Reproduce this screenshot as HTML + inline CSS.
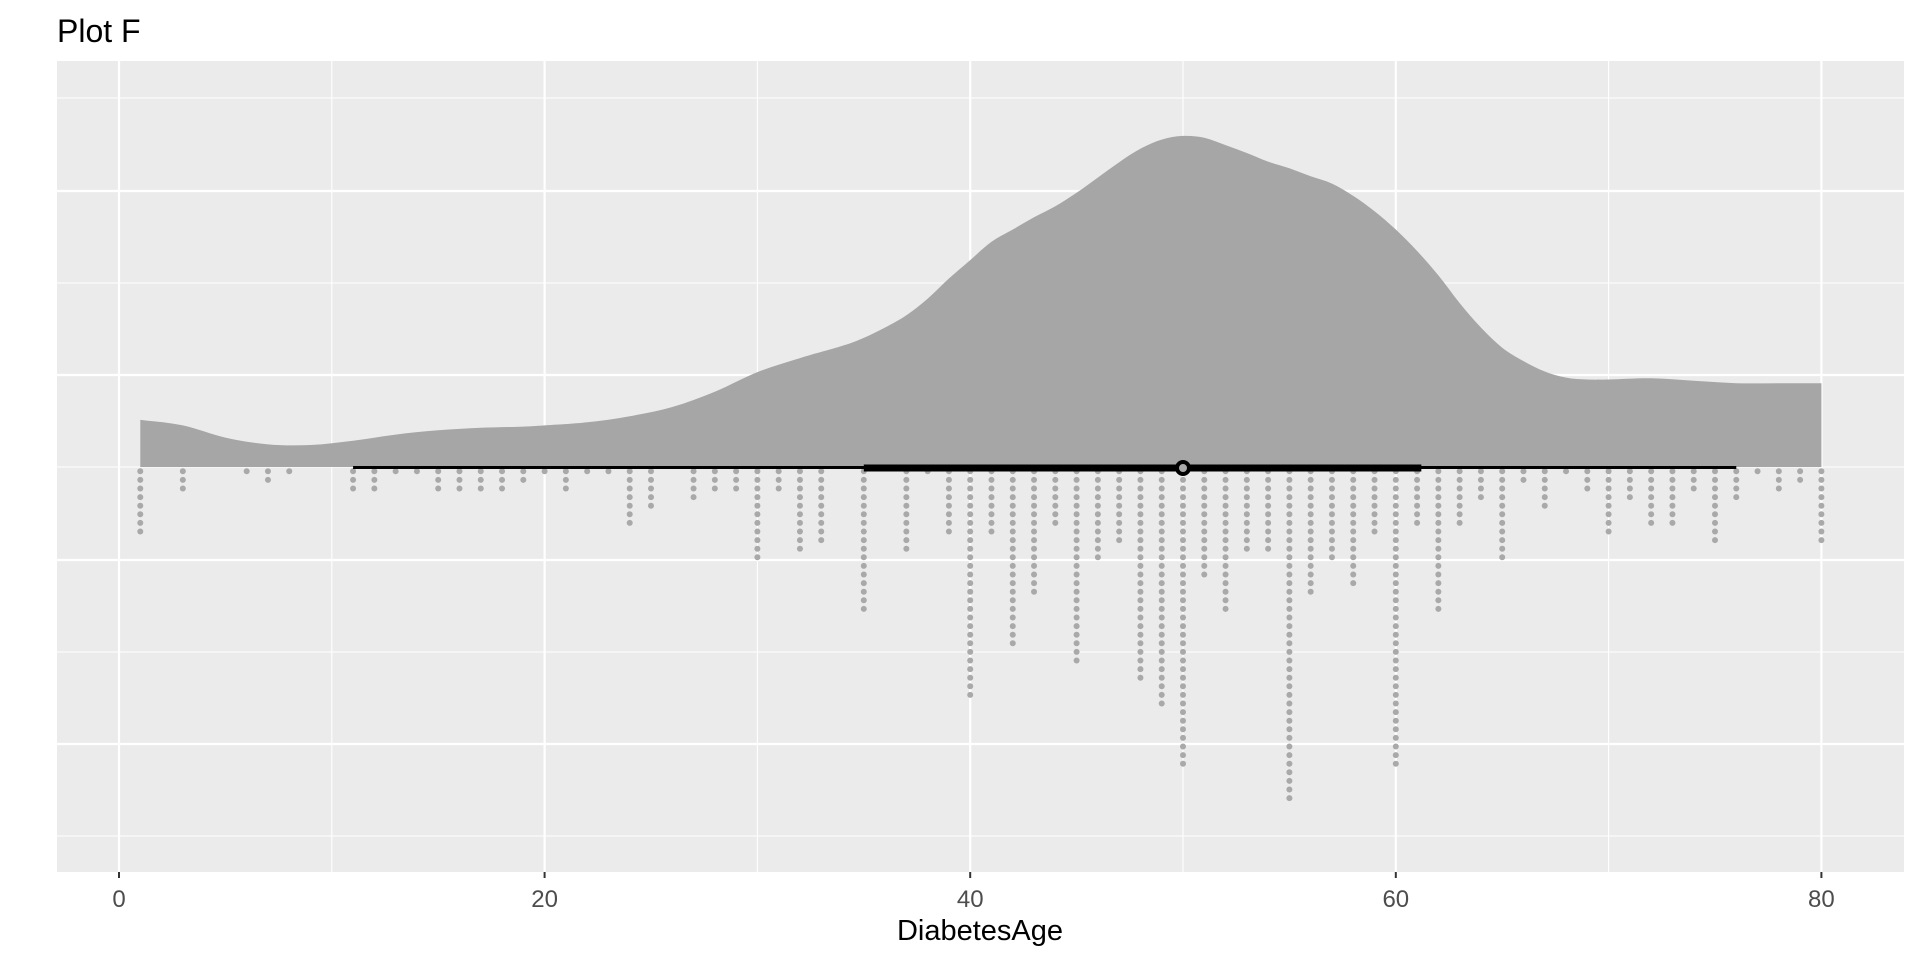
<!DOCTYPE html>
<html><head><meta charset="utf-8"><style>
html,body{margin:0;padding:0;background:#fff;}
svg{display:block;font-family:"Liberation Sans",Arial,sans-serif;}
</style></head><body>
<svg id="chart" width="1920" height="960" viewBox="0 0 1920 960">
<text x="57" y="42" font-size="32" fill="#000">Plot F</text>
<rect x="57" y="61" width="1847" height="811" fill="#ebebeb"/>
<g id="grid"></g>
<g id="density"></g>
<g id="dots"></g>
<g id="interval"></g>
<g id="xaxis"></g>
<text x="980" y="940" font-size="29" text-anchor="middle" fill="#000">DiabetesAge</text>
</svg>
<script>
const densityX = [1,3,5,7,9,11,13,15,17,19,20,22,24,26,28,30,32,34,35,36,37,38,39,40,41,42,43,44,45,46,47,48,49,50,51,52,53,54,55,56,57,58,59,60,61,62,63,64,65,66,67,68,69,70,72,74,76,78,80];
const densityY = [77,68,48,37,36,43,53,60,64,66,68,73,83,98,123,155,178,198,211,228,248,275,308,338,368,388,408,426,448,473,498,520,535,541,538,526,513,499,488,475,463,443,418,388,353,313,268,228,195,173,156,146,143,143,145,141,137,137,137];
const dotAges = [1,3,6,7,8,11,12,13,14,15,16,17,18,19,20,21,22,23,24,25,27,28,29,30,31,32,33,35,37,38,39,40,41,42,43,44,45,46,47,48,49,50,51,52,53,54,55,56,57,58,59,60,61,62,63,64,65,66,67,68,69,70,71,72,73,74,75,76,77,78,79,80];
const dotCounts = [8,3,1,2,1,3,3,1,1,3,3,3,3,2,1,3,1,1,7,5,4,3,3,11,3,10,9,17,10,1,8,27,8,21,15,7,23,11,9,25,28,35,13,17,10,10,39,15,11,14,8,35,7,17,7,4,11,2,5,1,3,8,4,7,7,3,9,4,1,3,2,9];
const intervalThin = [11,76];
const intervalThick = [35,61.2];
const medianAge = [50];
const xTicks = [0,20,40,60,80];
const xMinor = [10,30,50,70];

const NS="http://www.w3.org/2000/svg";
const X0=119, PXU=21.28, BASE=467, DS=0.612;
const sx=v=>X0+v*PXU;
const sy=d=>BASE-d*DS;
function mk(tag,attrs,parent){const e=document.createElementNS(NS,tag);for(const k in attrs)e.setAttribute(k,attrs[k]);parent.appendChild(e);return e;}

const grid=document.getElementById('grid');
const hLines=[98,191,283,375,467,560,652,744,836];
hLines.forEach((y,i)=>{const l=mk('line',{x1:57,x2:1904,y1:y,y2:y,stroke:'#fff','stroke-width':(i%2)?2.2:1.1},grid);

});
xMinor.forEach(v=>{const l=mk('line',{x1:sx(v),x2:sx(v),y1:61,y2:872,stroke:'#fff','stroke-width':1.1},grid);

});
xTicks.forEach(v=>{const l=mk('line',{x1:sx(v),x2:sx(v),y1:61,y2:872,stroke:'#fff','stroke-width':2.2},grid);

});

const dens=document.getElementById('density');
const pts=densityX.map((v,i)=>[sx(v),sy(densityY[i])]);
let d='M'+pts[0][0].toFixed(1)+','+BASE+' L'+pts[0][0].toFixed(1)+','+pts[0][1].toFixed(1);
for(let i=0;i<pts.length-1;i++){
  const p0=pts[Math.max(0,i-1)],p1=pts[i],p2=pts[i+1],p3=pts[Math.min(pts.length-1,i+2)];
  const c1=[p1[0]+(p2[0]-p0[0])/6,p1[1]+(p2[1]-p0[1])/6];
  const c2=[p2[0]-(p3[0]-p1[0])/6,p2[1]-(p3[1]-p1[1])/6];
  d+=' C'+c1[0].toFixed(1)+','+c1[1].toFixed(1)+' '+c2[0].toFixed(1)+','+c2[1].toFixed(1)+' '+p2[0].toFixed(1)+','+p2[1].toFixed(1);
}
d+=' L'+pts[pts.length-1][0].toFixed(1)+','+BASE+' Z';
const p=mk('path',{d:d,fill:'#a6a6a6'},dens);



const dots=document.getElementById('dots');
dotAges.forEach((a,i)=>{for(let k=0;k<dotCounts[i];k++){const c=mk('circle',{cx:sx(a),cy:471.3+k*8.6,r:3,fill:'#a9a9a9'},dots);

}});

const iv=document.getElementById('interval');
const l1=mk('line',{x1:sx(intervalThin[0]),x2:sx(intervalThin[1]),y1:467.5,y2:467.5,stroke:'#000','stroke-width':3},iv);


const l2=mk('line',{x1:sx(intervalThick[0]),x2:sx(intervalThick[1]),y1:468,y2:468,stroke:'#000','stroke-width':7},iv);


const m=mk('circle',{cx:sx(medianAge[0]),cy:468,r:6,fill:'#a9a9a9',stroke:'#000','stroke-width':4},iv);



const xa=document.getElementById('xaxis');
xTicks.forEach(v=>{const t=mk('line',{x1:sx(v),x2:sx(v),y1:872,y2:878,stroke:'#333','stroke-width':2},xa);


const tx=mk('text',{x:sx(v),y:907,'font-size':24,'text-anchor':'middle',fill:'#4d4d4d'},xa);
tx.textContent=v;

});
</script>
</body></html>
